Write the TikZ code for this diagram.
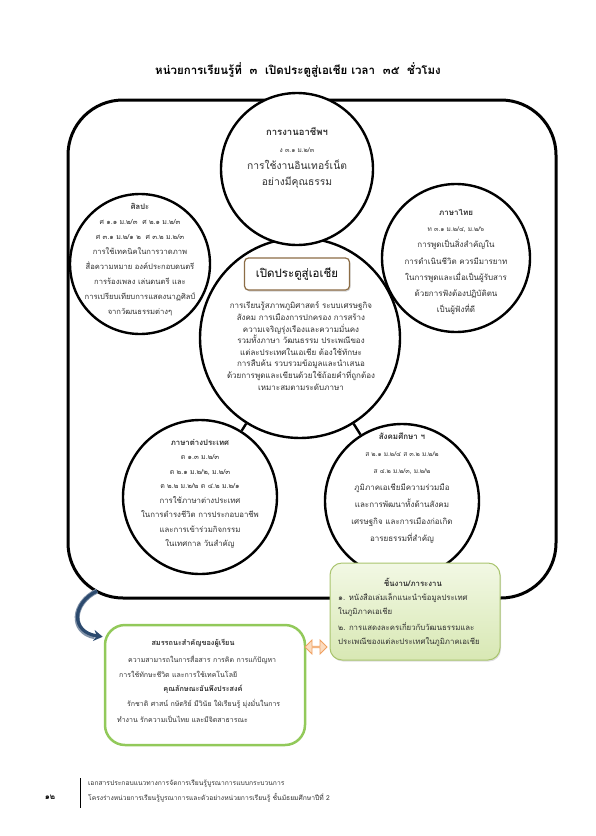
\documentclass[tikz,border=0pt]{standalone}
\usepackage{fontspec}
\setmainfont[Script=Thai]{Loma}
\usetikzlibrary{shapes.arrows,shadows,arrows.meta,calc}
\definecolor{gbord}{HTML}{A9C46E}
\definecolor{gtop}{HTML}{F2F8E4}
\definecolor{gbot}{HTML}{D8E8B4}
\definecolor{bbord}{HTML}{92C95A}
\definecolor{brownb}{HTML}{8C6D46}
\definecolor{oarrow}{HTML}{F0A060}
\definecolor{ofill}{HTML}{FBDCC0}
\definecolor{darkblue}{HTML}{2C4A6E}
\definecolor{txt}{HTML}{303030}
\tikzset{
  circ/.style={circle, draw=black, line width=2.4pt, fill=white, inner sep=0pt},
  txtnode/.style={align=center, text=txt, inner sep=0pt},
  lefttxt/.style={anchor=west, text=txt, inner sep=0pt},
}
\begin{document}
\begin{tikzpicture}[x=1pt,y=-1pt]
\useasboundingbox (0,0) rectangle (595,836);
% title
\node[font=\bfseries\fontsize{11.5}{14}\selectfont] (title) at (298,70)
  {หน่วยการเรียนรู้ที่~~๓~~เปิดประตูสู่เอเชีย เวลา~~๓๕~~ชั่วโมง};
% frame
\node[draw, line width=3pt, rounded corners=55pt, minimum width=488pt,
  minimum height=498pt, inner sep=0pt] (frame) at (312,349) {};
% circles
\node[circ, minimum size=200pt] (cmid) at (300,338) {};
\node[circ, minimum size=152pt] (ctop) at (297,169) {};
\node[circ, minimum size=140pt] (cleft) at (140,264) {};
\node[circ, minimum size=148pt] (cright) at (456,258) {};
\node[circ, minimum size=154pt] (cbl) at (200,497) {};
\node[circ, minimum size=154pt] (cbr) at (402,501) {};
\draw[line width=2.4pt] (cmid) -- (cbl);
\draw[line width=2.4pt] (cmid) -- (cbr);
% top circle text
\node[txtnode, font=\fontsize{10.3}{16.7}\selectfont] (ttop) at (297,158)
  {{\bfseries\fontsize{9.5}{12}\selectfont การงานอาชีพฯ}\\
   {\fontsize{6.5}{8}\selectfont ง ๓.๑ ม.๒/๓}\\
   การใช้งานอินเทอร์เน็ต\\
   อย่างมีคุณธรรม};
% left circle text
\node[txtnode, font=\fontsize{7.6}{15}\selectfont] (tleft) at (140,260)
  {\textbf{ศิลปะ}\\
   {\fontsize{7}{8}\selectfont ศ ๑.๑ ม.๒/๓~~ศ ๒.๑ ม.๒/๓}\\
   {\fontsize{7}{8}\selectfont ศ ๓.๑ ม.๒/๑ ๒~~ศ ๓.๒ ม.๒/๓}\\
   การใช้เทคนิคในการวาดภาพ\\
   สื่อความหมาย องค์ประกอบดนตรี\\
   การร้องเพลง เล่นดนตรี และ\\
   การเปรียบเทียบการแสดงนาฏศิลป์\\
   จากวัฒนธรรมต่างๆ};
% right circle text
\node[txtnode, font=\fontsize{8}{16.3}\selectfont] (tright) at (456,262)
  {\textbf{ภาษาไทย}\\
   {\fontsize{6.5}{8}\selectfont ท ๓.๑ ม.๒/๔, ม.๒/๖}\\
   การพูดเป็นสิ่งสำคัญใน\\
   การดำเนินชีวิต ควรมีมารยาท\\
   ในการพูดและเมื่อเป็นผู้รับสาร\\
   ด้วยการฟังต้องปฏิบัติตน\\
   เป็นผู้ฟังที่ดี};
% bottom left circle text
\node[txtnode, font=\fontsize{7.8}{14.5}\selectfont] (tbl) at (200,494)
  {\textbf{ภาษาต่างประเทศ}\\
   {\fontsize{7}{8}\selectfont ต ๑.๓ ม.๒/๓}\\
   {\fontsize{7}{8}\selectfont ต ๒.๑ ม.๒/๒, ม.๒/๓}\\
   {\fontsize{7}{8}\selectfont ต ๒.๒ ม.๒/๒ ต ๔.๒ ม.๒/๑}\\
   การใช้ภาษาต่างประเทศ\\
   ในการดำรงชีวิต การประกอบอาชีพ\\
   และการเข้าร่วมกิจกรรม\\
   ในเทศกาล วันสำคัญ};
% bottom right circle text
\node[txtnode, font=\fontsize{8}{17}\selectfont] (tbr) at (402,488)
  {\textbf{สังคมศึกษา ฯ}\\
   {\fontsize{6.5}{8}\selectfont ส ๒.๑ ม.๒/๔ ส ๓.๒ ม.๒/๒}\\
   {\fontsize{6.5}{8}\selectfont ส ๔.๒ ม.๒/๓, ม.๒/๒}\\
   ภูมิภาคเอเชียมีความร่วมมือ\\
   และการพัฒนาทั้งด้านสังคม\\
   เศรษฐกิจ และการเมืองก่อเกิด\\
   อารยธรรมที่สำคัญ};
% center
\node[draw=brownb, line width=1.2pt, rounded corners=4pt, fill=white,
  drop shadow={shadow xshift=1pt, shadow yshift=-1.5pt, opacity=0.35},
  minimum width=105pt, minimum height=32pt, inner sep=0pt,
  font=\fontsize{11.5}{14}\selectfont] (mbox) at (297,274) {เปิดประตูสู่เอเชีย};
\node[txtnode, font=\fontsize{8}{11.6}\selectfont] (mtext) at (301,346)
  {การเรียนรู้สภาพภูมิศาสตร์ ระบบเศรษฐกิจ\\
   สังคม การเมืองการปกครอง การสร้าง\\
   ความเจริญรุ่งเรืองและความมั่นคง\\
   รวมทั้งภาษา วัฒนธรรม ประเพณีของ\\
   แต่ละประเทศในเอเชีย ต้องใช้ทักษะ\\
   การสืบค้น รวบรวมข้อมูลและนำเสนอ\\
   ด้วยการพูดและเขียนด้วยใช้ถ้อยคำที่ถูกต้อง\\
   เหมาะสมตามระดับภาษา};
% work box
\node[draw=gbord, line width=1pt, rounded corners=12pt, top color=gtop,
  bottom color=gbot, minimum width=170pt, minimum height=97pt, inner sep=0pt,
  drop shadow={shadow xshift=1pt, shadow yshift=-1.5pt, opacity=0.25}]
  (work) at (415,611.5) {};
\node[txtnode, font=\bfseries\fontsize{7.8}{9}\selectfont] (worktitle) at (413,582) {ชิ้นงาน/ภาระงาน};
\node[lefttxt, font=\fontsize{7.8}{9}\selectfont] (w1) at (338,598) {๑. หนังสือเล่มเล็กแนะนำข้อมูลประเทศ};
\node[lefttxt, font=\fontsize{7.8}{9}\selectfont] (w2) at (338,612) {ในภูมิภาคเอเชีย};
\node[lefttxt, font=\fontsize{7.8}{9}\selectfont] (w3) at (338,627) {๒. การแสดงละครเกี่ยวกับวัฒนธรรมและ};
\node[lefttxt, font=\fontsize{7.8}{9}\selectfont] (w4) at (338,642) {ประเพณีของแต่ละประเทศในภูมิภาคเอเชีย};
% competency box
\node[draw=bbord, line width=2.5pt, rounded corners=20pt, fill=white,
  minimum width=200pt, minimum height=120pt, inner sep=0pt] (comp) at (205,685) {};
\node[txtnode, font=\bfseries\fontsize{7.3}{9}\selectfont] (comptitle) at (193,643) {สมรรถนะสำคัญของผู้เรียน};
\node[lefttxt, font=\fontsize{7}{9}\selectfont] (c1) at (128,660) {ความสามารถในการสื่อสาร การคิด การแก้ปัญหา};
\node[lefttxt, font=\fontsize{7}{9}\selectfont] (c2) at (119,674) {การใช้ทักษะชีวิต และการใช้เทคโนโลยี};
\node[txtnode, font=\bfseries\fontsize{7.3}{9}\selectfont] (chartitle) at (203,689) {คุณลักษณะอันพึงประสงค์};
\node[lefttxt, font=\fontsize{7}{9}\selectfont] (c3) at (127,704) {รักชาติ ศาสน์ กษัตริย์ มีวินัย ใฝ่เรียนรู้ มุ่งมั่นในการ};
\node[lefttxt, font=\fontsize{7}{9}\selectfont] (c4) at (117,719) {ทำงาน รักความเป็นไทย และมีจิตสาธารณะ};
% double arrow
\node[double arrow, draw=oarrow, fill=ofill, line width=0.8pt, minimum width=14pt,
  minimum height=22pt, double arrow head extend=3pt, inner sep=0pt] (dblarrow) at (316,647) {};
% blue curved arrow
\coordinate (bstart) at (97,591);
\coordinate (bend) at ($(comp.north west)+(-1,13)$);
\draw[darkblue!60, line width=5pt] (bstart) .. controls (72,603) and (70,632) .. ($(bend)+(-8,0)$);
\draw[darkblue, line width=3.2pt, -{Stealth[length=9pt,width=11pt]}] (bstart) .. controls (72,603) and (70,632) .. (bend);
% footer
\node[font=\bfseries\fontsize{8}{10}\selectfont] (pageno) at (50,797) {๑๒};
\draw[line width=0.8pt] (80,778) -- (80,808);
\node[lefttxt, font=\fontsize{6.7}{8}\selectfont] (foot1) at (88,784) {เอกสารประกอบแนวทางการจัดการเรียนรู้บูรณาการแบบกระบวนการ};
\node[lefttxt, font=\fontsize{6.7}{8}\selectfont] (foot2) at (88,798) {โครงร่างหน่วยการเรียนรู้บูรณาการและตัวอย่างหน่วยการเรียนรู้ ชั้นมัธยมศึกษาปีที่ 2};
\end{tikzpicture}
\end{document}
